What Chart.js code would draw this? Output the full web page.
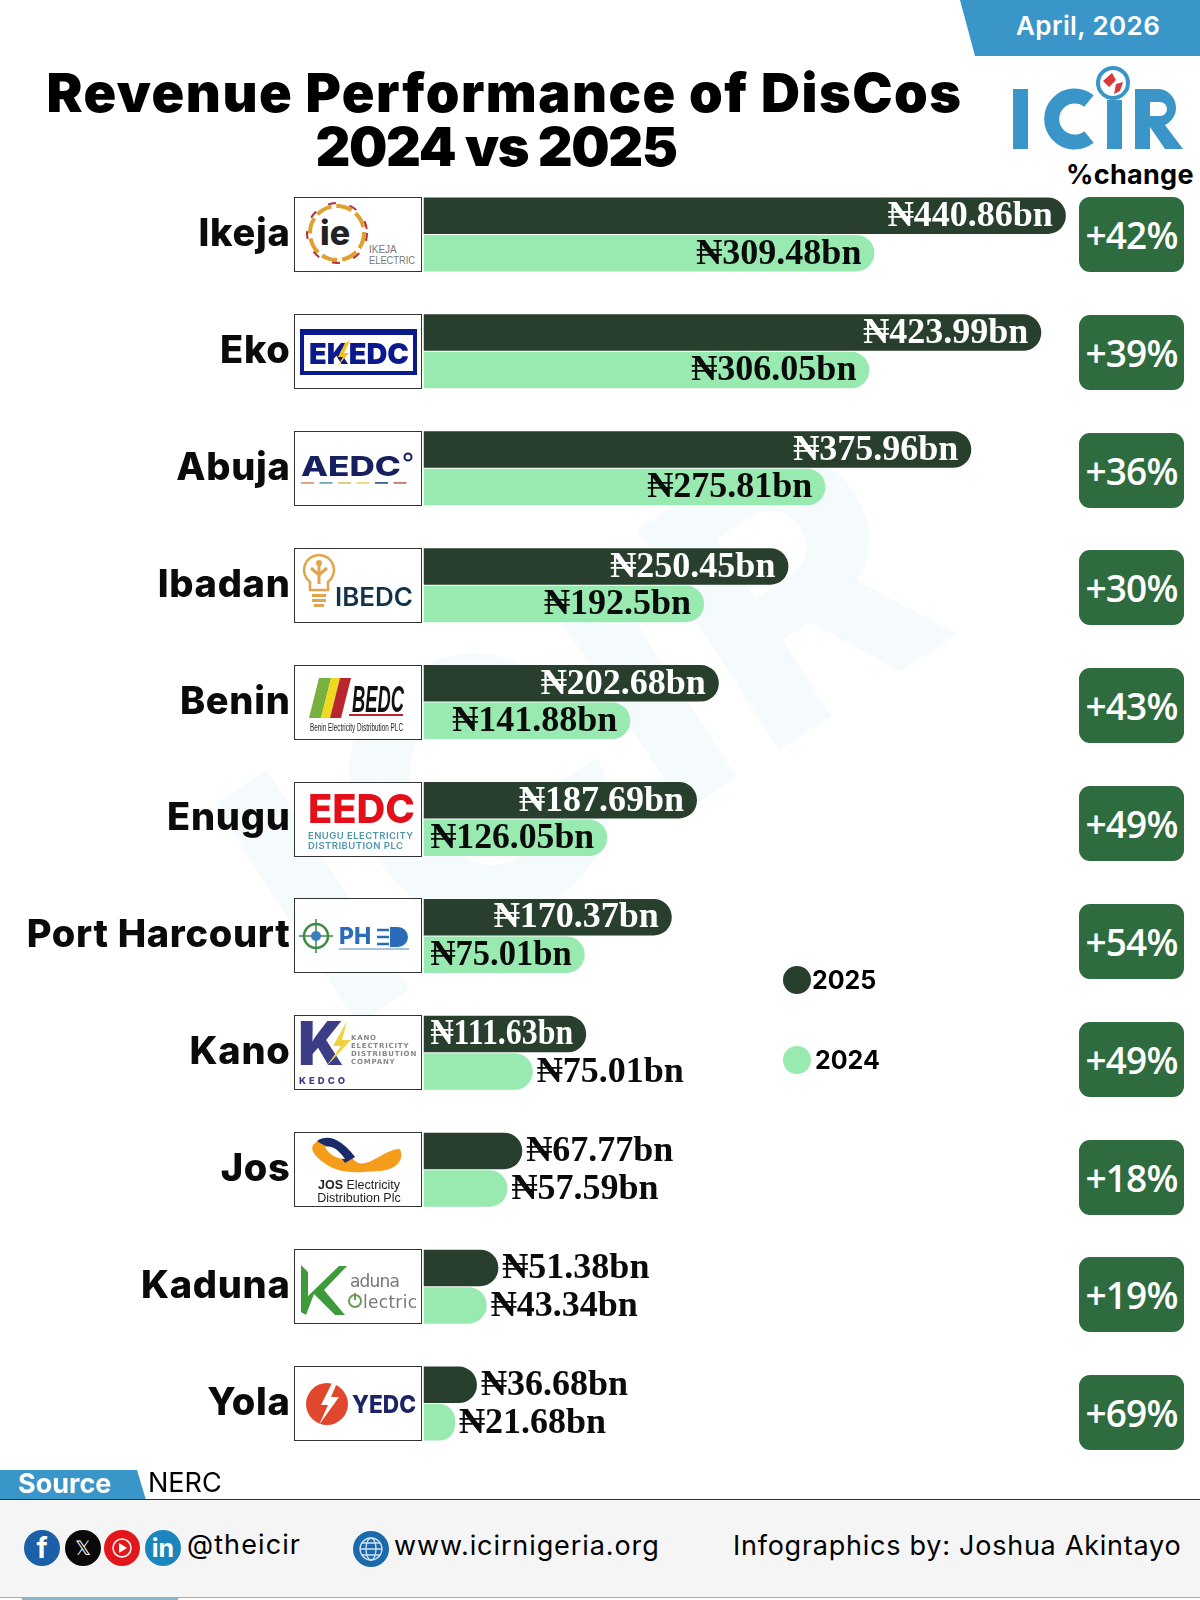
<!DOCTYPE html>
<html>
<head>
<meta charset="utf-8">
<title>Revenue Performance of DisCos</title>
<script src="https://cdn.jsdelivr.net/npm/chart.js@4"></script>
<style>
  html,body{margin:0;padding:0;background:#fff;}
  #page{position:relative;width:1200px;height:1600px;overflow:hidden;background:#fff;font-family:Inter,"Open Sans",sans-serif;color:#000;}
  #page > *{position:absolute;}
  #chart{left:0;top:0;}
  .t{white-space:nowrap;}
  .title{text-align:center;font-weight:900;font-size:54px;line-height:54px;}
  .logo{width:128px;height:75px;box-sizing:border-box;border:1.5px solid #333;background:#fff;}
  .logo svg{display:block;width:125px;height:72px;}
  .pct{left:1079px;width:105px;height:75px;background:#2e6b3e;border-radius:11px;color:#fff;text-align:center;font:600 37px/75px "Open Sans",sans-serif;letter-spacing:-.8px;}
  .dot{width:28px;height:28px;border-radius:50%;}
</style>
</head>
<body>
<div id="page">
  <svg id="wm" width="1200" height="1600" style="left:0;top:0">
    <text x="0" y="0" transform="translate(340,1035) rotate(-33)" font-family="Inter" font-weight="800" font-size="360" fill="#f5fafc" letter-spacing="10">ICIR</text>
  </svg>
  <svg width="240" height="56" style="left:960px;top:0"><polygon points="0,0 240,0 240,56 15,56" fill="#3a96c9"/></svg>
  <div class="t" style="left:1016px;top:9px;color:#fff;font-weight:600;font-size:26px;line-height:34px;letter-spacing:.4px">April, 2026</div>
  <div class="title t" style="left:0;width:1009px;top:66px;letter-spacing:1.5px">Revenue Performance of DisCos</div>
  <div class="title t" style="left:0;width:992px;top:120px;letter-spacing:-1.3px">2024 vs 2025</div>

  <svg width="180" height="100" style="left:1010px;top:62px">
    <rect x="3" y="27" width="15" height="60" fill="#3a96c9"/>
    <path d="M79 39 A 23 23 0 1 0 79 75" fill="none" stroke="#3a96c9" stroke-width="15"/>
    <rect x="97" y="38" width="15" height="49" fill="#3a96c9"/>
    <path d="M125 87 V27 H150 A 19 19 0 0 1 155 63 L173 87 H155 L140 65 V87 Z M140 40 V54 H150 A 7 7 0 0 0 150 40 Z" fill="#3a96c9" fill-rule="evenodd"/>
    <circle cx="103" cy="21" r="15" fill="#fff" stroke="#3a96c9" stroke-width="4"/>
    <path d="M93 19 l9 -8 l4 7 l-7 7z M106 22 l7 -2 l-3 9 l-6 3z" fill="#d63a3a"/>
  </svg>
  <div class="t" style="left:1066px;top:158px;font-weight:700;font-size:27px;line-height:34px;letter-spacing:.3px">%change</div>

  <canvas id="chart" width="1200" height="1600"></canvas>

  <svg width="148" height="30" style="left:0;top:1470px"><polygon points="0,0 137,0 146,30 0,30" fill="#3a96c9"/></svg>
  <div class="t" style="left:18px;top:1468px;color:#fff;font-weight:700;font-size:27px;line-height:32px">Source</div>
  <div class="t" style="left:148px;top:1467px;font-size:27px;line-height:32px;font-weight:400">NERC</div>
  <div style="left:0;top:1499px;width:1200px;height:99px;background:#f5f5f5;border-top:1.5px solid #333;border-bottom:1.5px solid #aaa;box-sizing:border-box"></div>
  <div style="left:22px;top:1598px;width:156px;height:2px;background:#8fb4c9"></div>

  <svg width="190" height="44" style="left:20px;top:1526px" font-family="Inter" font-weight="700" text-anchor="middle">
    <circle cx="22" cy="22" r="18" fill="#1a5fa8"/><text x="22" y="32" fill="#fff" font-size="28">f</text>
    <circle cx="63" cy="22" r="18" fill="#0a0a0a"/><text x="63" y="29" fill="#fff" font-size="20" font-weight="400">𝕏</text>
    <circle cx="102" cy="22" r="18" fill="#e3161b"/><circle cx="102" cy="22" r="9" fill="none" stroke="#fff" stroke-width="1.5"/><polygon points="99,17 107,22 99,27" fill="#fff"/>
    <circle cx="143" cy="22" r="18" fill="#1b86bd"/><text x="143" y="31" fill="#fff" font-size="25">in</text>
  </svg>
  <div class="t" style="left:187px;top:1528px;font-size:27px;line-height:34px;letter-spacing:1.1px">@theicir</div>
  <svg width="40" height="40" style="left:353px;top:1529px" fill="none" stroke="#cfe3f1" stroke-width="1.3">
    <circle cx="18" cy="20" r="18" fill="#1c6aab" stroke="none"/>
    <circle cx="18" cy="20" r="11"/><ellipse cx="18" cy="20" rx="5" ry="11"/><path d="M7 20H29M9 14H27M9 26H27"/>
  </svg>
  <div class="t" style="left:394px;top:1529px;font-size:27px;line-height:34px;letter-spacing:.9px">www.icirnigeria.org</div>
  <div class="t" style="left:733px;top:1529px;font-size:27px;line-height:34px;letter-spacing:.75px">Infographics by: Joshua Akintayo</div>
</div>

<script>
const categories = ['Ikeja','Eko','Abuja','Ibadan','Benin','Enugu','Port Harcourt','Kano','Jos','Kaduna','Yola'];
const seriesNames = ['2025','2024'];
const values2025 = [440.86,423.99,375.96,250.45,202.68,187.69,170.37,111.63,67.77,51.38,36.68];
const values2024 = [309.48,306.05,275.81,192.5,141.88,126.05,110.6,75.01,57.59,43.34,21.68];
const labels2025 = ['₦440.86bn','₦423.99bn','₦375.96bn','₦250.45bn','₦202.68bn','₦187.69bn','₦170.37bn','₦111.63bn','₦67.77bn','₦51.38bn','₦36.68bn'];
const labels2024 = ['₦309.48bn','₦306.05bn','₦275.81bn','₦192.5bn','₦141.88bn','₦126.05bn','₦75.01bn','₦75.01bn','₦57.59bn','₦43.34bn','₦21.68bn'];
const pctChange = ['+42%','+39%','+36%','+30%','+43%','+49%','+54%','+49%','+18%','+19%','+69%'];

const DARK = '#283f2e', LIGHT = '#98eab0';
const LABEL_FONT = 'bold 36px "Liberation Serif","DejaVu Serif",serif';

// rough redraws of the company logos, one per row
const T = (x,y,size,fill,txt,extra='') => `<text x="${x}" y="${y}" font-size="${size}" fill="${fill}" ${extra}>${txt}</text>`;
const logos = [
  T(25,47,34,'#222','ie','font-family="Inter" font-weight="800"') +
    '<circle cx="42" cy="35" r="27" fill="none" stroke="#e0a030" stroke-width="4" stroke-dasharray="16 5"/><circle cx="42" cy="35" r="30" fill="none" stroke="#b5303a" stroke-width="2" stroke-dasharray="8 14"/>' +
    T(74,55,10,'#777','IKEJA','font-family="Liberation Sans"') + T(74,66,10,'#777','ELECTRIC','font-family="Liberation Sans" textLength="46" lengthAdjust="spacingAndGlyphs"'),
  '<rect x="7" y="16" width="113" height="42" fill="none" stroke="#0a1a8c" stroke-width="4"/><rect x="6" y="14" width="115" height="6" fill="#0a1a8c"/>' +
    T(14,49,29,'#0a1a8c','EKEDC','font-family="Inter" font-weight="900" textLength="100" lengthAdjust="spacingAndGlyphs"') +
    '<polygon points="50,28 43,42 48,42 42,52 54,38 49,38 55,26" fill="#f2c21a"/>',
  T(6,44,27,'#16205f','AEDC','font-family="Inter" font-weight="800" textLength="100" lengthAdjust="spacingAndGlyphs"') +
    '<circle cx="113" cy="25" r="3.5" fill="#fff" stroke="#16205f" stroke-width="2"/>' +
    ['#d99a80','#6fa8b0','#d5c97a','#e6d77a','#3f5f95','#c07a70'].map((c,i)=>`<rect x="${6+i*18.5}" y="50" width="13" height="1.8" fill="${c}"/>`).join(''),
  '<path d="M24 6 a15 15 0 0 1 9 27 v8 h-18 v-8 a15 15 0 0 1 9 -27z" fill="none" stroke="#e1a44a" stroke-width="2.5"/><path d="M24 15 v20 M16 19 l8 7 l8 -7" fill="none" stroke="#e1a44a" stroke-width="3"/><circle cx="24" cy="14" r="3" fill="#e1a44a"/><rect x="17" y="45" width="14" height="3" fill="#e1a44a"/><rect x="17" y="50" width="14" height="3" fill="#e1a44a"/><rect x="19" y="55" width="10" height="3" fill="#e1a44a"/>' +
    T(40,57,25,'#12324a','IBEDC','font-family="Inter" font-weight="600" textLength="78" lengthAdjust="spacingAndGlyphs"'),
  '<polygon points="24,12 36,12 26,52 14,52" fill="#79b13f"/><polygon points="36,12 45,12 35,52 26,52" fill="#f0d91f"/><polygon points="45,12 56,12 46,52 35,52" fill="#b9262d"/>' +
    T(57,46,36,'#111','BEDC','font-family="Liberation Sans" font-weight="700" font-style="italic" textLength="52" lengthAdjust="spacingAndGlyphs"') +
    '<rect x="54" y="48" width="54" height="2" fill="#b9262d"/>' +
    T(15,65,10,'#222','Benin Electricity Distribution PLC','font-family="Liberation Sans" textLength="93" lengthAdjust="spacingAndGlyphs"'),
  T(13,40,40,'#e3101a','EEDC','font-family="Inter" font-weight="800" textLength="107" lengthAdjust="spacingAndGlyphs"') +
    T(13,56,9.5,'#4d96ac','ENUGU ELECTRICITY','font-family="Inter" font-weight="600" textLength="105"') +
    T(13,66,9.5,'#4d96ac','DISTRIBUTION PLC','font-family="Inter" font-weight="600" textLength="95"'),
  '<circle cx="21" cy="37" r="12" fill="none" stroke="#3d8a46" stroke-width="2.5"/><path d="M21 20 v34 M4 37 h34" stroke="#3d8a46" stroke-width="1.5"/><circle cx="21" cy="37" r="5" fill="#3a7fc0"/>' +
    T(44,45,23,'#2a6cb8','PH','font-family="Inter" font-weight="800"') +
    '<path d="M82 31 h12 M82 38 h12 M82 45 h12" stroke="#2a6cb8" stroke-width="2.5"/><path d="M95 28 h8 a10 10 0 0 1 0 20 h-8z" fill="#2a6cb8"/><rect x="44" y="49" width="70" height="2" fill="#a9c3dc"/>',
  T(3,49,60,'#3b3d86','K','font-family="Inter" font-weight="900"') +
    '<polygon points="52,5 38,30 46,30 30,52 56,24 47,24" fill="#f0d23f"/>' +
    ['KANO','ELECTRICITY','DISTRIBUTION','COMPANY'].map((s,i)=>T(56,24+i*8,7,'#888',s,'font-family="DejaVu Sans" font-weight="700" letter-spacing=".8"')).join('') +
    T(4,68,9.5,'#3b3d86','KEDCO','font-family="Inter" font-weight="800" letter-spacing="3"'),
  '<path d="M18 12 C30 -2 50 10 58 26 C70 40 88 16 105 16 C110 28 100 38 82 38 C60 40 40 42 22 24 C18 20 16 16 18 12z" fill="#f59c1a"/><path d="M22 8 C34 0 48 8 60 24 L50 30 C40 14 30 14 22 8z" fill="#1b2a6b"/><path d="M30 14 C38 12 44 18 50 26 C42 26 34 22 30 14z" fill="#fff"/>' +
    T(64,56,12.5,'#222','<tspan font-weight="700">JOS</tspan> Electricity','font-family="Liberation Sans" text-anchor="middle"') +
    T(64,69,12.5,'#222','Distribution Plc','font-family="Liberation Sans" text-anchor="middle"'),
  '<polygon points="6,15 13,22 13,46 44,16 52,16 29,40 50,65 40,65 19,44 11,65 6,62" fill="#3f9a3c"/>' +
    T(55,37,17,'#777','aduna','font-family="DejaVu Sans" textLength="50"') +
    '<circle cx="60" cy="51" r="6" fill="none" stroke="#6d9a55" stroke-width="2"/><rect x="59" y="43" width="2" height="7" fill="#6d9a55"/>' +
    T(68,58,17,'#777','lectric','font-family="DejaVu Sans" textLength="54"'),
  '<circle cx="32" cy="37" r="21" fill="#e0472c"/><polygon points="38,14 26,38 33,38 24,58 44,30 36,30 42,16" fill="#fff"/>' +
    T(57,46,24,'#1d2466','YEDC','font-family="Inter" font-weight="800" textLength="64" lengthAdjust="spacingAndGlyphs"')
];

// value text on the bars: inside the end when it fits, otherwise just past it
const barLabels = {
  id: 'barLabels',
  afterDatasetsDraw(chart){
    const ctx = chart.ctx;
    const texts = [labels2025, labels2024];
    ctx.save();
    ctx.letterSpacing = '0px';
    ctx.font = LABEL_FONT;
    ctx.textBaseline = 'middle';
    texts.forEach((list, d)=>{
      chart.getDatasetMeta(d).data.forEach((bar, i)=>{
        const len = bar.x - bar.base;
        const w = ctx.measureText(list[i]).width;
        const inside = len > w * 0.9;
        ctx.fillStyle = inside && d === 0 ? '#fff' : '#0b0b0b';
        ctx.textAlign = inside ? 'right' : 'left';
        if(inside) ctx.fillText(list[i], bar.x - 13, bar.y + 1, len - 20);
        else ctx.fillText(list[i], bar.x + 4, bar.y + 1);
      });
    });
    ctx.restore();
  },
  beforeDraw(chart){ chart.ctx.letterSpacing = '0.7px'; }
};

const chart = new Chart(document.getElementById('chart'), {
  type: 'bar',
  plugins: [barLabels],
  data: {
    labels: categories,
    datasets: [
      {label: seriesNames[0], data: values2025, backgroundColor: DARK},
      {label: seriesNames[1], data: values2024, backgroundColor: LIGHT}
    ]
  },
  options: {
    indexAxis: 'y',
    responsive: false,
    animation: false,
    devicePixelRatio: 1,
    layout: {padding: {top: 176, bottom: 138, right: 48, left: 0}},
    datasets: {bar: {
      categoryPercentage: 0.6416,
      barPercentage: 0.973,
      borderRadius: {topRight: 18, bottomRight: 18, topLeft: 0, bottomLeft: 0}
    }},
    plugins: {legend: {display: false}, tooltip: {enabled: false}},
    scales: {
      x: {display: false, min: 0, max: 500},
      y: {
        grid: {display: false, drawTicks: false},
        border: {display: false},
        // the long tick padding also ends up in the scale's top/bottom padding, drop it
        afterFit(s){ s.width = 423.5; s.paddingTop = 0; s.paddingBottom = 0; },
        ticks: {padding: 133, color: '#0b0b0b', font: {family: 'Inter', weight: '800', size: 38}}
      }
    }
  }
});

const page = document.getElementById('page');
categories.forEach((c, i)=>{
  const y = chart.scales.y.getPixelForValue(i);
  const box = document.createElement('div');
  box.className = 'logo';
  box.style.cssText = `left:294px;top:${y - 37.5}px`;
  box.innerHTML = `<svg viewBox="0 0 125 72">${logos[i]}</svg>`;
  page.appendChild(box);

  const p = document.createElement('div');
  p.className = 'pct t';
  p.style.top = (y - 37.5 + i * 0.92) + 'px';
  p.textContent = pctChange[i];
  page.appendChild(p);
});

[[seriesNames[0], DARK, 980, 812], [seriesNames[1], LIGHT, 1060, 815]].forEach(([name, col, y, tx])=>{
  const d = document.createElement('div');
  d.className = 'dot';
  d.style.cssText = `left:783px;top:${y - 14}px;background:${col}`;
  page.appendChild(d);
  const t = document.createElement('div');
  t.className = 't';
  t.style.cssText = `left:${tx}px;top:${y - 17}px;font-weight:700;font-size:25px;line-height:34px`;
  t.textContent = name;
  page.appendChild(t);
});
</script>
</body>
</html>
